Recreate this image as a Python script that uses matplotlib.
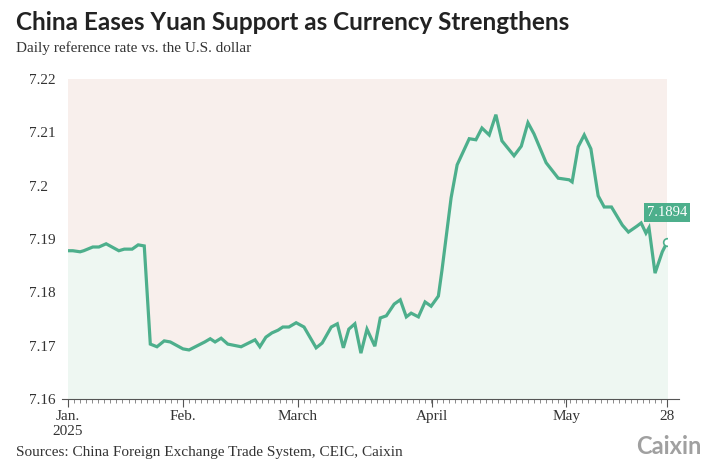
import matplotlib
matplotlib.use("Agg")
import matplotlib.pyplot as plt
import numpy as np

session = [0,0.8,2,2.6,4.1,5.1,6.3,8.4,9.3,10.6,11.6,12.6,13.6,14.7,15.9,16.9,19,20,22.6,23.5,24.3,25.3,26.4,28.6,30.9,31.7,32.7,33.7,34.7,35.5,36.5,37.7,39,41,42,43.5,44.5,45.5,46.4,47.4,48.4,49.4,50.7,51.6,52.6,53.9,54.9,55.9,56.7,57.9,59,60,61.2,61.8,63.3,64.3,66.3,67.4,68.4,69.6,70.7,71.7,73.7,74.9,76,77,79,81,82.8,83.3,84.3,85.3,86.4,87.6,88.6,89.8,91.6,92.6,94,94.7,95.5,96,97,98.2,99]
rate = [7.1878,7.1878,7.1876,7.1878,7.1885,7.1885,7.1891,7.1878,7.1881,7.1881,7.1889,7.1887,7.1703,7.1698,7.1709,7.1707,7.1694,7.1692,7.1707,7.1713,7.1707,7.1714,7.1703,7.1698,7.1711,7.1698,7.1716,7.1724,7.1729,7.1735,7.1735,7.1743,7.1735,7.1696,7.1705,7.1735,7.1741,7.1696,7.1731,7.1741,7.1686,7.1731,7.1699,7.1752,7.1756,7.1778,7.1786,7.1754,7.1761,7.1754,7.1782,7.1774,7.1793,7.1842,7.1977,7.2039,7.2088,7.2086,7.2108,7.2095,7.2133,7.2084,7.2056,7.2074,7.2118,7.2097,7.2043,7.2014,7.2011,7.2007,7.2073,7.2095,7.2069,7.1981,7.1960,7.1960,7.1926,7.1913,7.1924,7.1930,7.1911,7.1921,7.1836,7.1876,7.1894]
xtick_pos = [0,19,38,60.2,82.3,99]
xtick_labels = ["Jan.\n2025","Feb.","March","April","May","28"]
ytick_vals = [7.16,7.17,7.18,7.19,7.2,7.21,7.22]
ytick_labels = ["7.16","7.17","7.18","7.19","7.2","7.21","7.22"]

line_c = "#4daf8c"
fig = plt.figure(figsize=(7.12,4.70), dpi=100)
ax = fig.add_axes([0.0955,0.151,0.937-0.0955,0.832-0.151])
ax.set_facecolor("#f8efec")
ax.fill_between(session, rate, 7.16, color="#eef7f2", zorder=1)
ax.plot(session, rate, color=line_c, lw=2.3, zorder=3, solid_joinstyle="miter")
ax.plot(session[-1], rate[-1], 'o', ms=5.5, mfc="white", mec=line_c, mew=1.2, zorder=5)
ax.plot([session[-1]]*2, [rate[-1], 7.1942], color=line_c, lw=0.8, zorder=4)
ax.text(session[-1], 7.1950, "%.4f" % rate[-1], ha="center", va="center", fontsize=10.5,
        color="white", family="Liberation Serif", zorder=6,
        bbox=dict(boxstyle="square,pad=0.2", fc=line_c, ec="none"))
ax.set_xlim(0, 99)
ax.set_ylim(7.16, 7.22)
for s in ["top","right","left"]:
    ax.spines[s].set_visible(False)
ax.spines["bottom"].set_color("#555555")
ax.spines["bottom"].set_bounds(-1, 101)
ax.spines["bottom"].set_clip_on(False)
ax.set_yticks(ytick_vals)
ax.set_yticklabels(ytick_labels, family="Liberation Serif", fontsize=11, color="#333333")
ax.tick_params(axis="y", length=0, pad=28)
for t in ax.get_yticklabels():
    t.set_ha("left")
ax.set_xticks(xtick_pos)
ax.set_xticklabels(xtick_labels, family="Liberation Serif", fontsize=11, color="#333333")
ax.set_xticks(np.arange(0, 100, 1), minor=True)
ax.tick_params(axis="x", which="major", length=6, color="#555555", pad=2)
ax.tick_params(axis="x", which="minor", length=3, color="#777777", width=0.6)
fig.text(0.022, 0.952, "China Eases Yuan Support as Currency Strengthens", fontsize=17.5,
         fontweight="bold", family="Lato", color="#222222", va="center")
fig.text(0.022, 0.898, "Daily reference rate vs. the U.S. dollar", fontsize=11,
         family="Liberation Serif", color="#333333", va="center")
fig.text(0.022, 0.038, "Sources: China Foreign Exchange Trade System, CEIC, Caixin", fontsize=11,
         family="Liberation Serif", color="#333333", va="center")
fig.text(0.985, 0.05, "Caixin", fontsize=17, fontweight="bold", family="Lato",
         color="#a0a0a0", ha="right", va="center")
fig.savefig("out.png", dpi=100)
